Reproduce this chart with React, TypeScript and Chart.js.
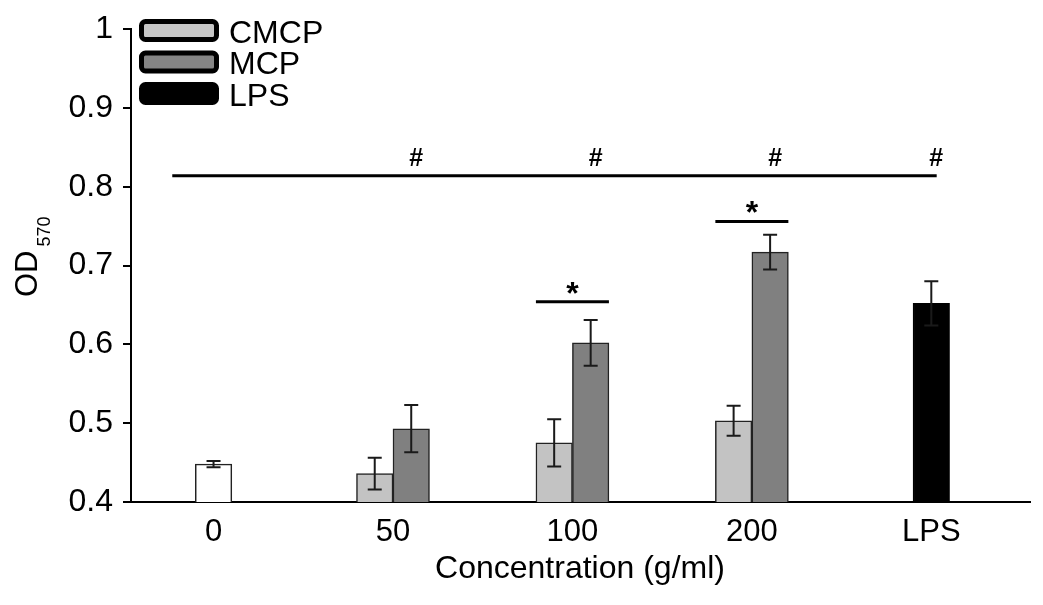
import { useEffect, useRef } from "react"
import { Chart, registerables } from "chart.js"

Chart.register(...registerables)

const FONT = "'Liberation Sans', Arial, Helvetica, sans-serif"

// x categories (concentration in g/ml, plus the LPS control)
const categories = ["0", "50", "100", "200", "LPS"]

// OD570 means and error bars
const controlValues = [0.448, null, null, null, null]
const controlErrors = [0.004, null, null, null, null]
const cmcpValues = [null, 0.436, 0.475, 0.503, null]
const cmcpErrors = [null, 0.02, 0.03, 0.019, null]
const mcpValues = [null, 0.493, 0.602, 0.717, null]
const mcpErrors = [null, 0.03, 0.029, 0.022, null]
const lpsValues = [null, null, null, null, 0.652]
const lpsErrors = [null, null, null, null, 0.028]

const yTicks = [0.4, 0.5, 0.6, 0.7, 0.8, 0.9, 1]

// significance marks
const starLevels = [null, null, 0.654, 0.756, null] // * bracket over CMCP/MCP pair
const hashLineLevel = 0.814
const hashLineSpan = [-0.23, 4.03] // in category units
const hashLevel = 0.837
const hashCategories = [1, 2, 3, 4]

type Pt = { x: number; y: number; err: number | null }

const toPoints = (values: (number | null)[], errors: (number | null)[]): Pt[] =>
  values.flatMap((v, i) => (v == null ? [] : [{ x: i, y: v, err: errors[i] }]))

const barAt = (chart: any, di: number, cat: number) => {
  const ds = chart.data.datasets[di]
  const j = ds.data.findIndex((p: Pt) => p.x === cat)
  return j < 0 ? null : chart.getDatasetMeta(di).data[j]
}

const errorBars = {
  id: "errorBars",
  afterDatasetsDraw(chart: any) {
    const { ctx, scales } = chart
    const y = scales.y
    ctx.save()
    ctx.strokeStyle = "#1a1a1a"
    ctx.lineWidth = 2
    chart.data.datasets.forEach((ds: any, di: number) => {
      const meta = chart.getDatasetMeta(di)
      meta.data.forEach((bar: any, j: number) => {
        const p = ds.data[j] as Pt
        if (!p || p.err == null) return
        const top = y.getPixelForValue(p.y + p.err)
        const bot = y.getPixelForValue(p.y - p.err)
        const x = bar.x
        ctx.beginPath()
        ctx.moveTo(x, top)
        ctx.lineTo(x, bot)
        ctx.moveTo(x - 7, top)
        ctx.lineTo(x + 7, top)
        ctx.moveTo(x - 7, bot)
        ctx.lineTo(x + 7, bot)
        ctx.stroke()
      })
    })
    ctx.restore()
  },
}

const annotations = {
  id: "annotations",
  afterDraw(chart: any) {
    const { ctx, scales } = chart
    const { x, y } = scales
    ctx.save()
    ctx.strokeStyle = "#000"
    ctx.fillStyle = "#000"
    ctx.lineWidth = 3

    // long line with # marks
    const ly = y.getPixelForValue(hashLineLevel)
    ctx.beginPath()
    ctx.moveTo(x.getPixelForValue(hashLineSpan[0]), ly)
    ctx.lineTo(x.getPixelForValue(hashLineSpan[1]), ly)
    ctx.stroke()

    ctx.font = `bold 25px ${FONT}`
    ctx.textAlign = "center"
    ctx.textBaseline = "alphabetic"
    const hy = y.getPixelForValue(hashLevel) + 8
    hashCategories.forEach((c) => {
      const bar = barAt(chart, 2, c) || barAt(chart, 3, c)
      if (bar) ctx.fillText("#", bar.x + 5, hy)
    })

    // * brackets
    ctx.font = `bold 32px ${FONT}`
    starLevels.forEach((lvl, c) => {
      if (lvl == null) return
      const a = barAt(chart, 1, c)
      const b = barAt(chart, 2, c)
      if (!a || !b) return
      const left = a.x - a.width / 2
      const right = b.x + b.width / 2
      const sy = y.getPixelForValue(lvl)
      ctx.beginPath()
      ctx.moveTo(left, sy)
      ctx.lineTo(right, sy)
      ctx.stroke()
      ctx.fillText("*", (left + right) / 2, sy + 2)
    })
    ctx.restore()
  },
}

const titlesAndLegend = {
  id: "titlesAndLegend",
  afterDraw(chart: any) {
    const { ctx } = chart
    ctx.save()
    ctx.fillStyle = "#000"

    // y title: OD with subscript 570
    ctx.save()
    ctx.translate(37, 297)
    ctx.rotate(-Math.PI / 2)
    ctx.textAlign = "left"
    ctx.textBaseline = "alphabetic"
    ctx.font = `31px ${FONT}`
    ctx.fillText("OD", 0, 0)
    const w = ctx.measureText("OD").width
    ctx.font = `18px ${FONT}`
    ctx.fillText("570", w + 4, 13)
    ctx.restore()

    // x title
    ctx.font = `32px ${FONT}`
    ctx.textAlign = "center"
    ctx.textBaseline = "alphabetic"
    ctx.fillText("Concentration (g/ml)", 580, 578)

    // legend
    const items = chart.data.datasets.filter((d: any) => d.inLegend)
    items.forEach((d: any, i: number) => {
      const top = 21.5 + i * 31.5
      ctx.beginPath()
      ctx.roundRect(141.5, top, 75, 18, 4)
      ctx.fillStyle = d.legendFill
      ctx.fill()
      ctx.lineWidth = 5
      ctx.strokeStyle = "#000"
      ctx.stroke()
      ctx.fillStyle = "#000"
      ctx.font = `32px ${FONT}`
      ctx.textAlign = "left"
      ctx.textBaseline = "alphabetic"
      ctx.fillText(d.label, 229, top + 21)
    })
    ctx.restore()
  },
}

export default function App() {
  const canvasRef = useRef<HTMLCanvasElement>(null)

  useEffect(() => {
    if (!canvasRef.current) return
    const barBase = { barThickness: 36.5, borderWidth: 1.5, borderColor: "#222", borderSkipped: "start" }

    const chart = new Chart(canvasRef.current, {
      type: "bar",
      data: {
        datasets: [
          {
            ...barBase,
            label: "Control",
            data: toPoints(controlValues, controlErrors),
            backgroundColor: "#ffffff",
            grouped: false,
          },
          {
            ...barBase,
            label: "CMCP",
            data: toPoints(cmcpValues, cmcpErrors),
            backgroundColor: "#c3c3c3",
            inLegend: true,
            legendFill: "#c6c6c6",
          },
          {
            ...barBase,
            label: "MCP",
            data: toPoints(mcpValues, mcpErrors),
            backgroundColor: "#808080",
            inLegend: true,
            legendFill: "#858585",
          },
          {
            ...barBase,
            label: "LPS",
            data: toPoints(lpsValues, lpsErrors),
            backgroundColor: "#000000",
            borderColor: "#000000",
            grouped: false,
            inLegend: true,
            legendFill: "#000000",
          },
        ] as any,
      },
      options: {
        animation: false,
        responsive: true,
        maintainAspectRatio: false,
        layout: { padding: { top: 24, right: 13, left: 0, bottom: 0 } },
        plugins: {
          legend: { display: false },
          tooltip: { enabled: false },
          title: { display: false },
        },
        scales: {
          x: {
            type: "linear",
            min: -0.46,
            max: 4.55,
            offset: false,
            afterBuildTicks: (s: any) => {
              s.ticks = categories.map((_, i) => ({ value: i }))
            },
            afterFit: (s: any) => {
              s.height = 103
            },
            grid: { display: false },
            border: { display: true, color: "#000", width: 2 },
            ticks: {
              callback: (v: any) => categories[v] ?? "",
              font: { size: 31, family: FONT },
              color: "#000",
              padding: 4,
              autoSkip: false,
              maxRotation: 0,
            },
          },
          y: {
            min: 0.4,
            max: 1,
            afterBuildTicks: (s: any) => {
              s.ticks = yTicks.map((v) => ({ value: v }))
            },
            afterFit: (s: any) => {
              s.width = 131
            },
            grid: { drawOnChartArea: false, drawTicks: true, tickLength: 8, color: "#000", lineWidth: 2 },
            border: { display: true, color: "#000", width: 2 },
            ticks: {
              callback: (v: any) => (v === 1 ? "1" : Number(v).toFixed(1)),
              font: { size: 32, family: FONT },
              color: "#000",
              padding: 10,
            },
          },
        },
      } as any,
      plugins: [errorBars, annotations, titlesAndLegend],
    })

    return () => chart.destroy()
  }, [])

  return (
    <div style={{ position: "absolute", left: 0, top: 0, width: 1043, height: 605, background: "#fff" }}>
      <canvas ref={canvasRef} />
    </div>
  )
}
